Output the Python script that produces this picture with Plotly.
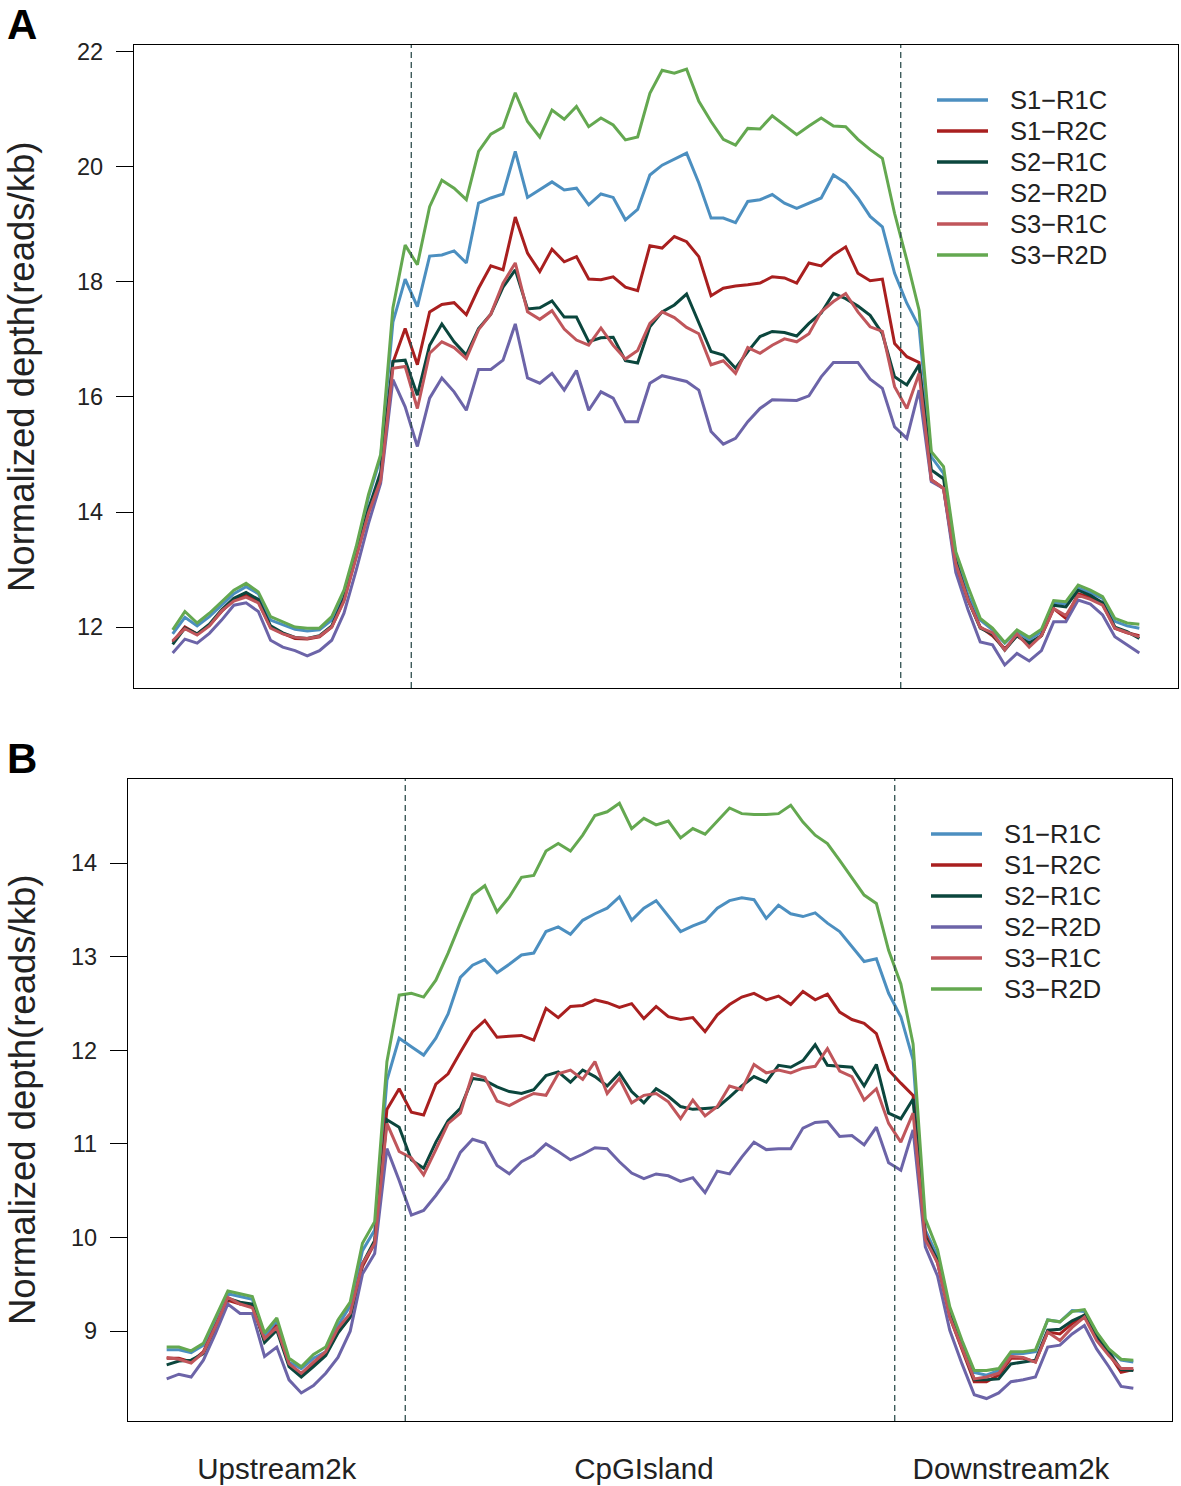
import plotly.graph_objects as go

W, H = 1181, 1486

bins = list(range(1, 81))
names = ['S1\u2212R1C', 'S1\u2212R2C', 'S2\u2212R1C', 'S2\u2212R2D', 'S3\u2212R1C', 'S3\u2212R2D']
colors = ['#4C8FC0', '#A91F1F', '#0B463D', '#6C64A8', '#C0565B', '#64A850']
region_pos = [10, 40, 70]
region_labels = ['Upstream2k', 'CpGIsland', 'Downstream2k']
borders = [20.5, 60.5]

# panel A
a_s1_r1c = [11.88, 12.17, 12.02, 12.18, 12.38, 12.58, 12.70, 12.58, 12.12, 12.04, 11.96, 11.93, 11.95, 12.12, 12.58, 13.33, 14.25, 14.95, 17.30, 18.05,
            17.57, 18.45, 18.47, 18.54, 18.33, 19.37, 19.46, 19.53, 20.27, 19.47, 19.60, 19.74, 19.60, 19.63, 19.34, 19.53, 19.47, 19.08, 19.26, 19.86,
            20.03, 20.13, 20.24, 19.72, 19.11, 19.11, 19.03, 19.40, 19.43, 19.52, 19.37, 19.28, 19.37, 19.46, 19.86, 19.72, 19.46, 19.14, 18.96, 18.15,
            17.63, 17.22, 14.96, 14.67, 13.25, 12.55, 12.12, 11.95, 11.72, 11.92, 11.78, 11.92, 12.42, 12.40, 12.68, 12.60, 12.50, 12.10, 12.02, 11.98]
a_s1_r2c = [11.74, 12.00, 11.88, 12.03, 12.27, 12.47, 12.56, 12.44, 12.00, 11.89, 11.80, 11.79, 11.83, 12.00, 12.47, 13.22, 14.00, 14.60, 16.60, 17.19,
            16.56, 17.48, 17.61, 17.64, 17.43, 17.89, 18.28, 18.21, 19.13, 18.50, 18.18, 18.57, 18.35, 18.44, 18.05, 18.04, 18.09, 17.91, 17.85, 18.63,
            18.59, 18.79, 18.70, 18.44, 17.76, 17.89, 17.93, 17.95, 17.98, 18.09, 18.07, 17.98, 18.33, 18.28, 18.47, 18.61, 18.15, 18.02, 18.05, 16.93,
            16.70, 16.60, 14.56, 14.41, 13.05, 12.47, 12.00, 11.85, 11.62, 11.85, 11.70, 11.85, 12.32, 12.15, 12.58, 12.52, 12.40, 11.98, 11.90, 11.85]
a_s2_r1c = [11.70, 11.98, 11.88, 12.05, 12.30, 12.50, 12.60, 12.48, 12.02, 11.90, 11.82, 11.80, 11.85, 12.02, 12.50, 13.25, 14.05, 14.70, 16.62, 16.64,
            16.03, 16.90, 17.27, 16.96, 16.73, 17.19, 17.44, 17.91, 18.21, 17.53, 17.55, 17.67, 17.39, 17.39, 16.96, 17.03, 17.04, 16.63, 16.59, 17.22,
            17.48, 17.60, 17.79, 17.28, 16.79, 16.73, 16.50, 16.79, 17.05, 17.14, 17.12, 17.06, 17.28, 17.46, 17.80, 17.71, 17.58, 17.42, 17.10, 16.35,
            16.21, 16.56, 14.73, 14.58, 13.15, 12.47, 11.98, 11.88, 11.60, 11.85, 11.72, 11.85, 12.38, 12.35, 12.64, 12.55, 12.42, 12.00, 11.92, 11.80]
a_s2_r2d = [11.55, 11.79, 11.72, 11.89, 12.12, 12.38, 12.42, 12.27, 11.77, 11.65, 11.59, 11.50, 11.59, 11.77, 12.24, 12.99, 13.80, 14.50, 16.30, 15.83,
            15.14, 15.98, 16.33, 16.09, 15.77, 16.48, 16.48, 16.64, 17.27, 16.33, 16.24, 16.41, 16.12, 16.46, 15.77, 16.09, 15.98, 15.57, 15.57, 16.24,
            16.37, 16.32, 16.27, 16.12, 15.40, 15.18, 15.28, 15.57, 15.80, 15.95, 15.95, 15.94, 16.02, 16.35, 16.60, 16.60, 16.60, 16.31, 16.15, 15.48,
            15.28, 16.12, 14.53, 14.41, 12.95, 12.30, 11.74, 11.69, 11.34, 11.54, 11.41, 11.59, 12.09, 12.09, 12.47, 12.40, 12.21, 11.83, 11.69, 11.55]
a_s3_r1c = [11.76, 11.97, 11.86, 12.02, 12.28, 12.45, 12.52, 12.42, 11.98, 11.88, 11.82, 11.80, 11.84, 12.00, 12.45, 13.20, 13.98, 14.55, 16.50, 16.53,
            15.80, 16.76, 16.96, 16.86, 16.67, 17.17, 17.44, 17.98, 18.33, 17.48, 17.35, 17.50, 17.18, 16.99, 16.90, 17.20, 16.90, 16.66, 16.81, 17.28,
            17.48, 17.38, 17.21, 17.10, 16.56, 16.63, 16.41, 16.86, 16.76, 16.90, 17.01, 16.96, 17.10, 17.48, 17.66, 17.80, 17.48, 17.22, 17.14, 16.18,
            15.80, 16.41, 14.56, 14.41, 13.10, 12.47, 11.99, 11.90, 11.60, 11.88, 11.65, 11.85, 12.32, 12.20, 12.55, 12.48, 12.38, 11.98, 11.90, 11.83]
a_s3_r2d = [11.95, 12.27, 12.07, 12.24, 12.44, 12.64, 12.76, 12.61, 12.18, 12.09, 12.00, 11.98, 11.98, 12.18, 12.64, 13.40, 14.30, 15.00, 17.55, 18.64,
            18.30, 19.31, 19.77, 19.63, 19.43, 20.27, 20.57, 20.69, 21.29, 20.79, 20.52, 20.99, 20.83, 21.05, 20.70, 20.85, 20.73, 20.47, 20.52, 21.28,
            21.68, 21.63, 21.70, 21.14, 20.79, 20.48, 20.38, 20.67, 20.66, 20.89, 20.73, 20.56, 20.71, 20.85, 20.71, 20.70, 20.48, 20.30, 20.15, 19.19,
            18.38, 17.51, 15.05, 14.79, 13.31, 12.70, 12.15, 11.98, 11.73, 11.95, 11.82, 11.96, 12.46, 12.44, 12.73, 12.64, 12.53, 12.15, 12.07, 12.05]

# panel B
b_s1_r1c = [8.80, 8.80, 8.77, 8.85, 9.12, 9.40, 9.37, 9.34, 8.95, 9.10, 8.67, 8.60, 8.71, 8.78, 9.06, 9.27, 9.86, 10.08, 11.68, 12.13,
            12.04, 11.95, 12.13, 12.39, 12.78, 12.91, 12.97, 12.83, 12.92, 13.02, 13.04, 13.27, 13.32, 13.24, 13.39, 13.46, 13.52, 13.64, 13.39, 13.52,
            13.60, 13.43, 13.27, 13.33, 13.38, 13.52, 13.60, 13.63, 13.61, 13.41, 13.55, 13.46, 13.43, 13.47, 13.36, 13.27, 13.11, 12.95, 12.98, 12.61,
            12.36, 11.90, 10.08, 9.80, 9.22, 8.86, 8.56, 8.53, 8.58, 8.76, 8.76, 8.78, 9.12, 9.10, 9.22, 9.21, 8.98, 8.80, 8.69, 8.67]
b_s1_r2c = [8.71, 8.71, 8.67, 8.78, 9.06, 9.33, 9.29, 9.27, 8.90, 9.06, 8.65, 8.53, 8.65, 8.76, 8.99, 9.15, 9.69, 9.94, 11.37, 11.59,
            11.34, 11.31, 11.64, 11.75, 11.98, 12.20, 12.32, 12.14, 12.15, 12.16, 12.11, 12.45, 12.35, 12.47, 12.48, 12.54, 12.51, 12.46, 12.50, 12.34,
            12.47, 12.36, 12.33, 12.35, 12.20, 12.38, 12.49, 12.57, 12.61, 12.54, 12.58, 12.49, 12.63, 12.54, 12.60, 12.41, 12.33, 12.29, 12.18, 11.79,
            11.65, 11.52, 10.04, 9.73, 9.15, 8.80, 8.46, 8.46, 8.53, 8.71, 8.71, 8.67, 8.99, 8.97, 9.08, 9.17, 8.92, 8.76, 8.56, 8.59]
b_s2_r1c = [8.64, 8.68, 8.69, 8.76, 9.04, 9.35, 9.31, 9.29, 8.88, 9.01, 8.62, 8.51, 8.62, 8.74, 8.98, 9.15, 9.72, 9.97, 11.26, 11.18,
            10.83, 10.74, 11.02, 11.25, 11.38, 11.70, 11.68, 11.61, 11.56, 11.54, 11.58, 11.73, 11.77, 11.66, 11.79, 11.72, 11.62, 11.76, 11.56, 11.44,
            11.59, 11.51, 11.40, 11.37, 11.38, 11.39, 11.50, 11.62, 11.72, 11.66, 11.84, 11.82, 11.89, 12.06, 11.84, 11.83, 11.82, 11.62, 11.85, 11.33,
            11.27, 11.48, 10.00, 9.76, 9.18, 8.83, 8.48, 8.48, 8.49, 8.65, 8.67, 8.69, 9.01, 9.02, 9.11, 9.17, 8.94, 8.78, 8.59, 8.58]
b_s2_r2d = [8.49, 8.54, 8.51, 8.69, 8.98, 9.29, 9.19, 9.19, 8.73, 8.83, 8.48, 8.34, 8.42, 8.55, 8.72, 9.00, 9.61, 9.83, 10.95, 10.61,
            10.24, 10.29, 10.45, 10.63, 10.91, 11.05, 11.01, 10.77, 10.68, 10.81, 10.88, 11.00, 10.92, 10.83, 10.89, 10.96, 10.95, 10.81, 10.69, 10.63,
            10.68, 10.66, 10.60, 10.64, 10.48, 10.71, 10.68, 10.86, 11.02, 10.94, 10.95, 10.95, 11.17, 11.23, 11.24, 11.08, 11.09, 10.99, 11.18, 10.80,
            10.72, 11.15, 9.90, 9.59, 9.01, 8.65, 8.32, 8.28, 8.34, 8.46, 8.48, 8.51, 8.83, 8.85, 8.97, 9.06, 8.81, 8.62, 8.41, 8.39]
b_s3_r1c = [8.72, 8.70, 8.66, 8.77, 9.05, 9.36, 9.29, 9.25, 8.92, 9.04, 8.65, 8.55, 8.67, 8.78, 9.03, 9.19, 9.72, 9.94, 11.22, 10.92,
            10.85, 10.67, 10.94, 11.22, 11.33, 11.75, 11.71, 11.46, 11.41, 11.48, 11.54, 11.52, 11.75, 11.79, 11.69, 11.88, 11.54, 11.70, 11.44, 11.52,
            11.54, 11.45, 11.27, 11.47, 11.30, 11.40, 11.62, 11.58, 11.85, 11.76, 11.79, 11.76, 11.81, 11.83, 12.02, 11.78, 11.72, 11.47, 11.59, 11.22,
            11.02, 11.33, 9.98, 9.73, 9.15, 8.82, 8.49, 8.51, 8.55, 8.73, 8.72, 8.67, 8.99, 8.90, 9.04, 9.15, 8.90, 8.74, 8.60, 8.60]
b_s3_r2d = [8.83, 8.83, 8.79, 8.87, 9.15, 9.43, 9.40, 9.37, 8.98, 9.14, 8.71, 8.62, 8.75, 8.83, 9.12, 9.31, 9.94, 10.17, 11.88, 12.59,
            12.61, 12.57, 12.75, 13.04, 13.36, 13.66, 13.76, 13.48, 13.64, 13.85, 13.87, 14.13, 14.21, 14.13, 14.30, 14.51, 14.55, 14.64, 14.37, 14.48,
            14.41, 14.45, 14.27, 14.37, 14.31, 14.45, 14.59, 14.53, 14.52, 14.52, 14.53, 14.62, 14.44, 14.30, 14.21, 14.03, 13.85, 13.66, 13.57, 13.07,
            12.71, 12.07, 10.20, 9.87, 9.26, 8.90, 8.58, 8.58, 8.60, 8.78, 8.78, 8.80, 9.12, 9.10, 9.21, 9.23, 8.99, 8.81, 8.70, 8.69]

panel_a = [a_s1_r1c, a_s1_r2c, a_s2_r1c, a_s2_r2d, a_s3_r1c, a_s3_r2d]
panel_b = [b_s1_r1c, b_s1_r2c, b_s2_r1c, b_s2_r2d, b_s3_r1c, b_s3_r2d]

FONT = 'Liberation Sans, Arial, sans-serif'

fig = go.Figure()
for vals, nm, col in zip(panel_a, names, colors):
    fig.add_trace(go.Scatter(x=bins, y=vals, mode='lines', name=nm, showlegend=False,
                             line=dict(color=col, width=3), xaxis='x', yaxis='y'))
for vals, nm, col in zip(panel_b, names, colors):
    fig.add_trace(go.Scatter(x=bins, y=vals, mode='lines', name=nm, showlegend=False,
                             line=dict(color=col, width=3), xaxis='x2', yaxis='y2'))


def px_x(p):
    return p / W


def px_y(p):
    return 1 - p / H


frame = dict(showline=True, linecolor='black', linewidth=1.2, mirror=True,
             showgrid=False, zeroline=False, automargin=False)
yaxis_style = dict(frame, ticks='outside', ticklen=17, tickwidth=1.2, tickcolor='black',
                   tickfont=dict(family=FONT, size=23.5, color='#222'), ticklabelstandoff=8)

fig.update_layout(
    width=W, height=H, margin=dict(l=0, r=0, t=0, b=0, pad=0, autoexpand=False),
    paper_bgcolor='white', plot_bgcolor='white', showlegend=False,
    xaxis=dict(frame, domain=[px_x(134), px_x(1178)], range=[-2.16, 83.16],
               showticklabels=False, ticks='', anchor='y'),
    yaxis=dict(yaxis_style, domain=[px_y(688), px_y(45)], range=[10.94, 22.12],
               tickvals=[12, 14, 16, 18, 20, 22], anchor='x'),
    xaxis2=dict(frame, domain=[px_x(128), px_x(1172)], range=[-2.16, 83.16],
                tickvals=region_pos, ticktext=region_labels, ticks='',
                tickfont=dict(family=FONT, size=29.5, color='#222'), ticklabelstandoff=21,
                anchor='y2'),
    yaxis2=dict(yaxis_style, domain=[px_y(1421), px_y(779)], range=[8.04, 14.90],
                tickvals=[9, 10, 11, 12, 13, 14], anchor='x2'),
)

# region borders
for xr, yr in [('x', 'y domain'), ('x2', 'y2 domain')]:
    for b in borders:
        fig.add_shape(type='line', xref=xr, yref=yr, x0=b, x1=b, y0=0, y1=1,
                      line=dict(color='#2F4F4F', width=1.3, dash='6px,4px'))

# legends drawn by hand, one per panel
for lx, ly in [(937, 100), (931, 834)]:
    for k, (nm, col) in enumerate(zip(names, colors)):
        yy = ly + k * 31
        fig.add_shape(type='line', xref='paper', yref='paper',
                      x0=px_x(lx), x1=px_x(lx + 51), y0=px_y(yy), y1=px_y(yy),
                      line=dict(color=col, width=3.5))
        fig.add_annotation(x=px_x(lx + 71), y=px_y(yy), xref='paper', yref='paper',
                           text=nm, showarrow=False, xanchor='left', yanchor='middle',
                           font=dict(family=FONT, size=25.5, color='#222'))

# y titles and panel letters
for cy in [367, 1100]:
    fig.add_annotation(x=px_x(22), y=px_y(cy), xref='paper', yref='paper',
                       text='Normalized depth(reads/kb)', textangle=-90, showarrow=False,
                       xanchor='center', yanchor='middle',
                       font=dict(family=FONT, size=36.5, color='#222'))
for letter, cy in [('A', 24), ('B', 759)]:
    fig.add_annotation(x=px_x(22), y=px_y(cy), xref='paper', yref='paper',
                       text='<b>' + letter + '</b>', showarrow=False,
                       xanchor='center', yanchor='middle',
                       font=dict(family=FONT, size=42, color='black'))

# drop the browser's default body margin so the figure sits at the page corner
fig.write_html('out.html', config={'displayModeBar': False},
               post_script="document.body.style.margin='0';document.body.style.overflow='hidden';")
